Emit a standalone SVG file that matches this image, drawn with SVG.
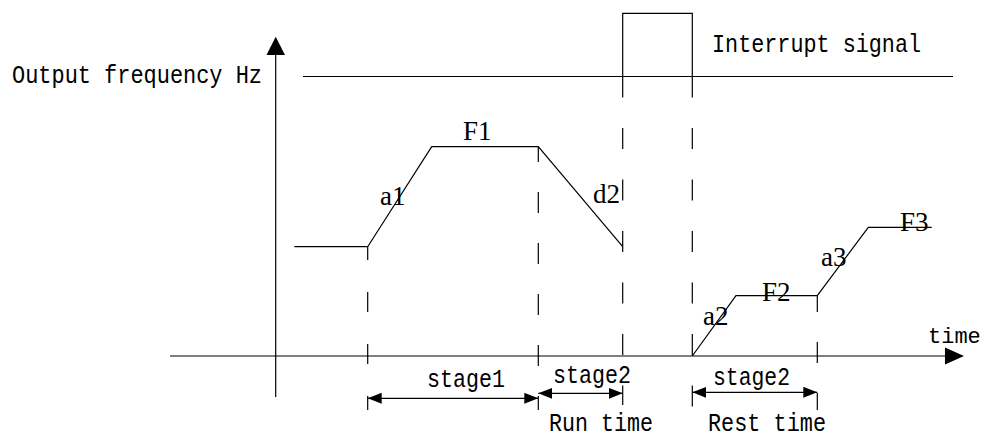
<svg xmlns="http://www.w3.org/2000/svg" width="984" height="439" viewBox="0 0 984 439">
<style>
.ln{stroke:#000;stroke-width:1.2;fill:none}
.dash{stroke:#000;stroke-width:1.2;fill:none}
.mono{font-family:"Liberation Mono","DejaVu Sans Mono",monospace;font-size:26px;fill:#000}
.serif{font-family:"Liberation Serif","DejaVu Serif",serif;font-size:27px;fill:#000}
.dim{stroke:#000;stroke-width:1.2;fill:none;marker-start:url(#ah);marker-end:url(#ah)}
</style>
<defs>
<marker id="ah" markerUnits="userSpaceOnUse" markerWidth="15" markerHeight="12" refX="14" refY="5.5" orient="auto-start-reverse">
<path d="M0,0 L14,5.5 L0,11 z" fill="#000"/>
</marker>
</defs>
<rect width="984" height="439" fill="#fff"/>

<g id="axes">
<line class="ln" x1="275.7" y1="397" x2="275.7" y2="54"/>
<polygon points="275.7,36.7 266.5,55 285,55" fill="#000"/>
<line class="ln" x1="170" y1="356" x2="946" y2="356"/>
<polygon points="964,356 945,347.5 945,364.5" fill="#000"/>
</g>

<g id="interrupt-signal">
<line class="ln" x1="303" y1="76.5" x2="953" y2="76.5"/>
<polyline class="ln" points="622.7,76.5 622.7,13.3 692.3,13.3 692.3,76.5"/>
</g>

<g id="frequency-curve">
<polyline class="ln" points="294.3,246.7 367.7,246.7 431.7,146.7 538.3,146.7 622.7,246.7"/>
<polyline class="ln" points="692.3,356 736,295.7 817.3,295.7 868.3,227.3 931.7,227.3"/>
</g>

<g id="connectors">
<line class="dash" x1="367.7" y1="247" x2="367.7" y2="410" stroke-dasharray="20 32" stroke-dashoffset="7"/>
<line class="dash" x1="538.3" y1="147" x2="538.3" y2="410" stroke-dasharray="21 30" stroke-dashoffset="6"/>
<line class="dash" x1="622.7" y1="76.5" x2="622.7" y2="405" stroke-dasharray="21 30.5"/>
<line class="dash" x1="692.3" y1="76.5" x2="692.3" y2="410" stroke-dasharray="21 30.5"/>
<line class="dash" x1="817.3" y1="296" x2="817.3" y2="410" stroke-dasharray="21 30" stroke-dashoffset="5"/>
<line class="dim" x1="367.7" y1="398.3" x2="538.3" y2="398.3"/>
<line class="dim" x1="538.3" y1="393.3" x2="622.7" y2="393.3"/>
<line class="dim" x1="692.3" y1="392.3" x2="817.3" y2="392.3"/>
</g>

<g id="labels">
<text class="mono" x="12" y="83" textLength="250" lengthAdjust="spacingAndGlyphs">Output frequency Hz</text>
<text class="mono" x="712" y="52" textLength="209" lengthAdjust="spacingAndGlyphs">Interrupt signal</text>
<text class="mono" x="928" y="343" style="font-size:22px">time</text>
<text class="mono" x="427" y="387" textLength="78" lengthAdjust="spacingAndGlyphs">stage1</text>
<text class="mono" x="553" y="383" textLength="78" lengthAdjust="spacingAndGlyphs">stage2</text>
<text class="mono" x="713" y="385" textLength="77" lengthAdjust="spacingAndGlyphs">stage2</text>
<text class="mono" x="549" y="431" textLength="104" lengthAdjust="spacingAndGlyphs">Run time</text>
<text class="mono" x="708" y="431" textLength="118" lengthAdjust="spacingAndGlyphs">Rest time</text>
<text class="serif" x="463" y="140">F1</text>
<text class="serif" x="380" y="205">a1</text>
<text class="serif" x="593" y="203">d2</text>
<text class="serif" x="703" y="325">a2</text>
<text class="serif" x="762" y="301">F2</text>
<text class="serif" x="821" y="266">a3</text>
<text class="serif" x="900" y="231">F3</text>
</g>
</svg>
